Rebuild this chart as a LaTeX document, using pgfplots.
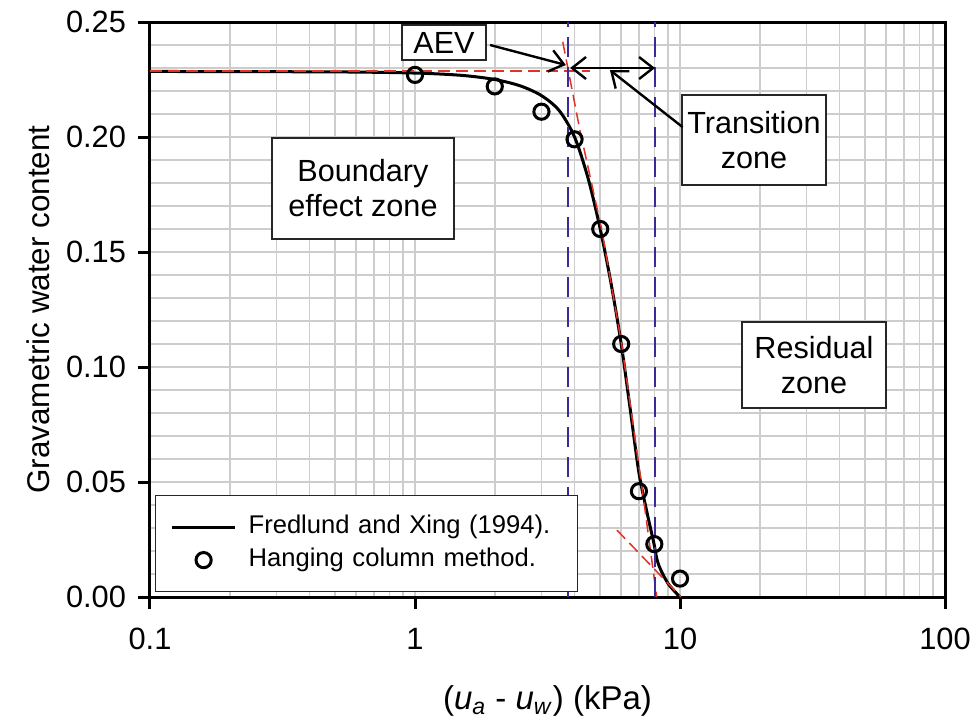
\documentclass[border=0pt]{standalone}
\usepackage{fontspec}
\setmainfont{Liberation Sans}
\usepackage{pgfplots}
\pgfplotsset{compat=1.18}
\usetikzlibrary{arrows.meta}
\definecolor{redl}{RGB}{225,50,40}
\definecolor{bluel}{RGB}{60,40,150}
\definecolor{gridc}{RGB}{205,205,205}
\pgfplotsset{
  linelegend/.style={legend image code/.code={\draw[##1] (0pt,0pt) -- (31.5pt,0pt); \path (37.5pt,0pt);}},
  marklegend/.style={legend image code/.code={\draw[##1] plot coordinates {(15.75pt,0pt)}; \path (0pt,0pt) (37.5pt,0pt);}}
}
\begin{document}
\begin{tikzpicture}[
  boxn/.style={draw=black!85, line width=0.6pt, fill=white, align=center, inner sep=0pt,
               font=\fontsize{15.3}{17.5}\selectfont},
  arr/.style={line width=1.2pt, -{Straight Barb[length=7pt,width=11pt]}}
]
\begin{axis}[
  name=ax, scale only axis, width=397.5pt, height=287.5pt,
  xmode=log, xmin=0.1, xmax=100, ymin=0, ymax=0.25,
  xtick={0.1,1,10,100}, xticklabels={0.1,1,10,100},
  minor xtick={0.2,0.3,0.4,0.5,0.6,0.7,0.8,0.9,2,3,4,5,6,7,8,9,20,30,40,50,60,70,80,90},
  ytick={0,0.05,0.1,0.15,0.2,0.25},
  minor ytick={0.01,0.02,0.03,0.04,0.06,0.07,0.08,0.09,0.11,0.12,0.13,0.14,0.16,0.17,0.18,0.19,0.21,0.22,0.23,0.24},
  scaled y ticks=false,
  grid=both, major grid style={gridc, line width=0.75pt}, minor grid style={gridc, line width=0.75pt},
  tick align=outside, tick pos=left, major tick length=6pt, minor tick length=0pt,
  axis line style={line width=1.5pt},
  every tick/.style={black, line width=1.5pt},
  /pgf/number format/assume math mode=true,
  tick label style={font=\fontsize{15.4}{18}\selectfont},
  yticklabel style={/pgf/number format/.cd, fixed, fixed zerofill, precision=2, /tikz/.cd, xshift=-2.5pt},
  xticklabel style={yshift=-6pt},
  xlabel={(\textit{u}\textsubscript{\textit{a}} - \textit{u}\textsubscript{\textit{w}}) (kPa)},
  ylabel={Gravametric water content},
  xlabel style={font=\fontsize{16.5}{19}\selectfont, at={([yshift=-56pt]axis description cs:0.5,0)}, anchor=base},
  ylabel style={font=\fontsize{15.7}{18}\selectfont, at={([xshift=-50pt]axis description cs:0,0.5)}, anchor=base},
  clip=false,
  legend cell align=left,
  legend style={at={(rel axis cs:0.0063,0.1774)}, anchor=north west, draw=black!85, line width=0.6pt,
    fill=white, inner xsep=7.5pt, inner ysep=9.5pt, row sep=4pt,
    font=\fontsize{12.8}{15}\selectfont,
    nodes={inner sep=0pt, text height=9.5pt, text depth=3pt, text width=157pt}},
]
% Fredlund and Xing fit
\addplot[black, line width=1.5pt, smooth, tension=0.5, linelegend]
  coordinates {
  (0.1,0.2285) (0.5,0.2283) (1,0.2278) (1.5,0.2268) (2,0.2250) (2.5,0.2222)
  (3,0.2180) (3.5,0.2115) (4,0.2000) (4.5,0.1820) (5,0.1600) (5.5,0.1360)
  (6,0.1100) (6.5,0.0810) (7,0.0540) (7.5,0.0370) (7.95,0.0240) (8.27,0.0146)
  (9.0,0.0060) (10,0.0000)};
\addlegendentry{Fredlund and Xing (1994).}
% tangent lines
\addplot[redl, line width=0.9pt, dash pattern=on 6pt off 3pt, forget plot]
  coordinates {(0.1,0.2288) (4.57,0.2288)};
\addplot[redl, line width=0.75pt, dash pattern=on 6pt off 3pt, forget plot]
  coordinates {(3.61,0.2414) (4.19,0.2030) (5.06,0.1600) (6.03,0.1096) (7.21,0.0465) (8.17,0.0)};
\addplot[redl, line width=0.75pt, dash pattern=on 6pt off 3pt, forget plot]
  coordinates {(5.78,0.0291) (10.1,0.0)};
% zone limits
\addplot[bluel, line width=0.75pt, dash pattern=on 10pt off 5pt, forget plot]
  coordinates {(3.78,0) (3.78,0.25)};
\addplot[bluel, line width=0.75pt, dash pattern=on 10pt off 5pt, forget plot]
  coordinates {(8.05,0) (8.05,0.25)};
% measurements
\addplot[only marks, mark=o, mark size=3.8pt, black, line width=1.5pt, marklegend]
  coordinates {
  (1,0.227) (2,0.222) (3,0.211) (4,0.199) (5,0.160) (6,0.110) (7,0.046) (8,0.023) (10,0.008)};
\addlegendentry{Hanging column method.}
% annotations
\node[boxn, minimum width=91pt, minimum height=50.5pt] at (rel axis cs:0.2679,0.7104) {Boundary\\effect zone};
\node[boxn, minimum width=72pt, minimum height=45pt] at (rel axis cs:0.7597,0.7948) {Transition\\zone};
\node[boxn, minimum width=72pt, minimum height=43pt] at (rel axis cs:0.8352,0.4035) {Residual\\zone};
\node[boxn, minimum width=42pt, minimum height=17.5pt] at (rel axis cs:0.3698,0.9643) {AEV};
\draw[arr] (axis cs:1.92,0.240) -- (axis cs:3.71,0.2313);
\draw[line width=1.2pt, {Straight Barb[length=7pt,width=11pt]}-{Straight Barb[length=7pt,width=11pt]}]
  (axis cs:3.85,0.2300) -- (axis cs:8.05,0.2300);
\draw[arr] (axis cs:10.23,0.2043) -- (axis cs:5.44,0.2291);
\end{axis}
\pgfresetboundingbox
\path ([shift={(-75pt,-63.5pt)}]ax.south west) rectangle ([shift={(16pt,11pt)}]ax.north east);
\end{tikzpicture}
\end{document}
